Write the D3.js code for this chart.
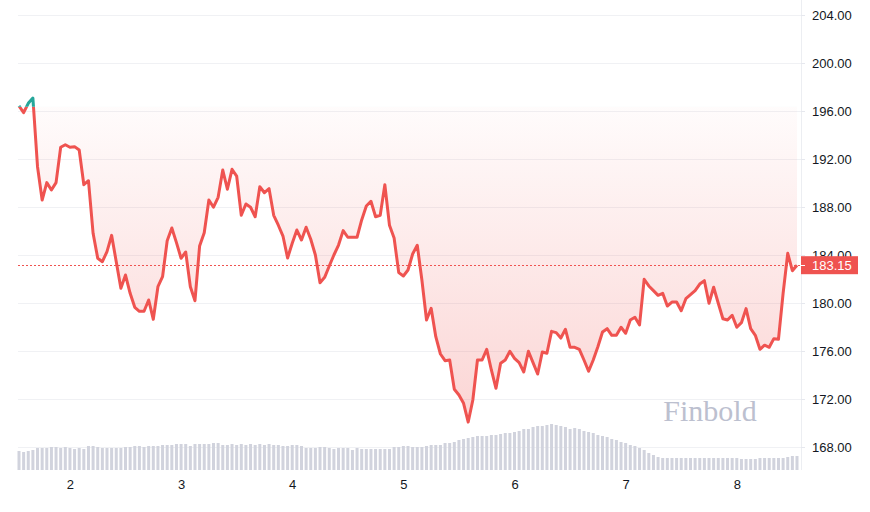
<!DOCTYPE html>
<html lang="en">
<head>
<meta charset="utf-8">
<script src="https://cdn.jsdelivr.net/npm/d3@7"></script>
<style>
    body { margin: 0; background: #fff; }
    .axis-label { font-family: "Liberation Sans", Arial, sans-serif; font-size: 13px; fill: #131722; }
    .watermark { font-family: "Liberation Serif", "Times New Roman", serif; font-size: 30px; fill: #bcc0cf; }
</style>
</head>
<body>
<div id="chart"></div>
<script>
    // hourly closes, day 1 13:00 -> day 8 13:00
    const startTime = Date.UTC(2024, 0, 1, 13);
    const stepMs = 3600 * 1000;

    const prices = [
        196.42, 195.86, 196.64, 197.08, 191.36, 188.58, 190.03, 189.42, 190.03, 192.98,
        193.19, 192.98, 193.03, 192.75, 189.86, 190.19, 185.81, 183.73, 183.44, 184.28,
        185.64, 183.44, 181.23, 182.33, 180.81, 179.64, 179.31, 179.31, 180.25, 178.64,
        181.36, 182.19, 185.19, 186.25, 185.03, 183.73, 184.25, 181.36, 180.19, 184.75,
        185.86, 188.58, 187.98, 188.81, 191.08, 189.48, 191.14, 190.58, 187.31, 188.25,
        187.98, 187.19, 189.69, 189.19, 189.53, 187.31, 186.48, 185.58, 183.75, 184.98,
        186.08, 185.25, 186.31, 185.31, 184.00, 181.69, 182.14, 183.08, 184.00, 184.83,
        186.03, 185.48, 185.48, 185.48, 186.92, 188.08, 188.48, 187.19, 187.31, 189.86,
        186.48, 185.42, 182.53, 182.25, 182.75, 184.08, 184.81, 181.92, 178.58, 179.56,
        177.19, 175.75, 175.19, 175.25, 172.81, 172.33, 171.64, 170.08, 171.92, 175.25,
        175.25, 176.14, 174.42, 172.89, 174.98, 175.25, 175.98, 175.39, 175.03, 174.25,
        175.98, 175.03, 174.08, 175.92, 175.81, 177.64, 177.53, 177.08, 177.81, 176.31,
        176.31, 176.14, 175.25, 174.31, 175.25, 176.36, 177.58, 177.86, 177.31, 177.31,
        177.98, 177.48, 178.58, 178.81, 178.17, 181.98, 181.42, 181.03, 180.64, 180.81,
        179.75, 180.08, 180.08, 179.36, 180.36, 180.69, 181.03, 181.58, 181.86, 179.98,
        181.31, 179.98, 178.69, 178.58, 178.98, 177.98, 178.36, 179.53, 177.86, 177.31,
        176.14, 176.48, 176.31, 177.03, 176.98, 180.81, 184.14, 182.69, 183.15
    ];

    const volumes = [
        19, 18, 19, 20, 22, 22, 22, 23, 23, 22,
        23, 22, 21, 22, 21, 24, 24, 23, 22, 22,
        22, 22, 22, 23, 23, 24, 24, 23, 24, 24,
        24, 25, 25, 25, 26, 26, 26, 24, 26, 26,
        26, 26, 27, 27, 25, 25, 26, 25, 26, 25,
        26, 25, 26, 25, 26, 25, 25, 24, 24, 25,
        25, 24, 22, 22, 22, 23, 23, 22, 21, 22,
        22, 22, 20, 22, 21, 21, 21, 21, 21, 21,
        21, 23, 23, 24, 24, 23, 23, 23, 24, 25,
        25, 25, 27, 27, 28, 30, 31, 32, 33, 34,
        34, 34, 35, 35, 36, 37, 37, 38, 39, 41,
        41, 43, 44, 44, 45, 46, 45, 44, 43, 41,
        42, 41, 39, 38, 37, 35, 34, 33, 31, 30,
        28, 27, 25, 24, 22, 20, 17, 15, 13, 12,
        12, 12, 12, 12, 12, 12, 12, 12, 12, 12,
        12, 12, 12, 12, 12, 12, 11, 11, 11, 11,
        12, 12, 12, 12, 12, 12, 13, 14, 14
    ];

    const priceTicks = [168, 172, 176, 180, 184, 188, 192, 196, 200, 204];
    const dayTicks = [2, 3, 4, 5, 6, 7, 8];
    const baseValue = 196.35;
    const lastPrice = 183.15;
    const watermarkText = "Finbold";

    const width = 870, height = 512;
    const paneLeft = 18, paneRight = 801, paneBottom = 470;

    const data = prices.map((p, i) => ({ t: new Date(startTime + i * stepMs), p: p, v: volumes[i] }));

    const svg = d3.select("#chart")
        .append("svg")
        .attr("width", width)
        .attr("height", height);

    const x = d3.scaleUtc()
        .domain([data[0].t, data[data.length - 1].t])
        .range([19, 797]);

    const y = d3.scaleLinear()
        .domain([168, 204])
        .range([447, 15]);

    const vy = d3.scaleLinear()
        .domain([0, 50])
        .range([paneBottom, 420]);

    // gradients
    const defs = svg.append("defs");
    const redGrad = defs.append("linearGradient")
        .attr("id", "redFill")
        .attr("gradientUnits", "userSpaceOnUse")
        .attr("x1", 0).attr("x2", 0)
        .attr("y1", y(baseValue)).attr("y2", paneBottom);
    redGrad.append("stop").attr("offset", 0).attr("stop-color", "rgba(239,83,80,0.02)");
    redGrad.append("stop").attr("offset", 1).attr("stop-color", "rgba(239,83,80,0.28)");

    const greenGrad = defs.append("linearGradient")
        .attr("id", "greenFill")
        .attr("gradientUnits", "userSpaceOnUse")
        .attr("x1", 0).attr("x2", 0)
        .attr("y1", 0).attr("y2", y(baseValue));
    greenGrad.append("stop").attr("offset", 0).attr("stop-color", "rgba(38,166,154,0.28)");
    greenGrad.append("stop").attr("offset", 1).attr("stop-color", "rgba(38,166,154,0.05)");

    defs.append("clipPath").attr("id", "below")
        .append("rect")
        .attr("x", 0).attr("y", y(baseValue))
        .attr("width", paneRight).attr("height", paneBottom - y(baseValue));
    defs.append("clipPath").attr("id", "above")
        .append("rect")
        .attr("x", 0).attr("y", 0)
        .attr("width", paneRight).attr("height", y(baseValue));

    // horizontal grid
    svg.append("g")
        .selectAll("line")
        .data(priceTicks)
        .join("line")
        .attr("x1", paneLeft)
        .attr("x2", paneRight)
        .attr("y1", d => Math.round(y(d)) + 0.5)
        .attr("y2", d => Math.round(y(d)) + 0.5)
        .attr("stroke", "#f0f1f4")
        .attr("stroke-width", 1);

    // volume bars
    svg.append("g")
        .selectAll("rect")
        .data(data)
        .join("rect")
        .attr("x", d => x(d.t) - 1.5)
        .attr("y", d => vy(d.v))
        .attr("width", 3)
        .attr("height", d => paneBottom - vy(d.v))
        .attr("fill", "#d1d3dd");

    // watermark
    svg.append("text")
        .attr("class", "watermark")
        .attr("x", 710)
        .attr("y", 421)
        .attr("text-anchor", "middle")
        .text(watermarkText);

    // baseline area fill
    const area = d3.area()
        .x(d => x(d.t))
        .y0(y(baseValue))
        .y1(d => y(d.p));

    svg.append("path")
        .datum(data)
        .attr("d", area)
        .attr("fill", "url(#redFill)")
        .attr("clip-path", "url(#below)");

    svg.append("path")
        .datum(data)
        .attr("d", area)
        .attr("fill", "url(#greenFill)")
        .attr("clip-path", "url(#above)");

    // last price dotted line
    svg.append("line")
        .attr("x1", paneLeft)
        .attr("x2", paneRight)
        .attr("y1", Math.round(y(lastPrice)) + 0.5)
        .attr("y2", Math.round(y(lastPrice)) + 0.5)
        .attr("stroke", "#ef5350")
        .attr("stroke-width", 1)
        .attr("stroke-dasharray", "2,2");

    // price line, red below the base value, teal above
    const line = d3.line()
        .x(d => x(d.t))
        .y(d => y(d.p));

    svg.append("path")
        .datum(data)
        .attr("d", line)
        .attr("fill", "none")
        .attr("stroke", "#ef5350")
        .attr("stroke-width", 3)
        .attr("stroke-linejoin", "round")
        .attr("clip-path", "url(#below)");

    svg.append("path")
        .datum(data)
        .attr("d", line)
        .attr("fill", "none")
        .attr("stroke", "#26a69a")
        .attr("stroke-width", 3)
        .attr("stroke-linejoin", "round")
        .attr("clip-path", "url(#above)");

    // right price scale
    svg.append("line")
        .attr("x1", paneRight + 0.5)
        .attr("x2", paneRight + 0.5)
        .attr("y1", 0)
        .attr("y2", paneBottom)
        .attr("stroke", "#eceef2");

    const yAxis = svg.append("g")
        .attr("transform", `translate(${paneRight},0)`)
        .call(d3.axisRight(y).tickValues(priceTicks).tickFormat(d3.format(".2f")).tickSize(4).tickPadding(7));
    yAxis.select(".domain").remove();
    yAxis.selectAll(".tick line").attr("stroke", "#e6e8ee");
    yAxis.selectAll(".tick text")
        .attr("class", "axis-label")
        .attr("fill", null)
        .attr("font-size", null)
        .attr("font-family", null);
    yAxis.attr("font-size", null).attr("font-family", null);

    // last price label
    const ly = y(lastPrice);
    svg.append("rect")
        .attr("x", paneRight)
        .attr("y", ly - 9)
        .attr("width", 57)
        .attr("height", 18)
        .attr("fill", "#ef5350");
    svg.append("line")
        .attr("x1", paneRight)
        .attr("x2", paneRight + 4)
        .attr("y1", Math.round(ly) + 0.5)
        .attr("y2", Math.round(ly) + 0.5)
        .attr("stroke", "#fff");
    svg.append("text")
        .attr("class", "axis-label")
        .attr("x", 812)
        .attr("y", ly)
        .attr("dy", "0.35em")
        .style("fill", "#fff")
        .text(lastPrice.toFixed(2));

    // time scale
    const xAxis = svg.append("g")
        .attr("transform", `translate(0,${paneBottom})`)
        .call(d3.axisBottom(x)
            .tickValues(dayTicks.map(d => new Date(Date.UTC(2024, 0, d))))
            .tickFormat(d3.utcFormat("%-d"))
            .tickSize(0)
            .tickPadding(10));
    xAxis.select(".domain").remove();
    xAxis.selectAll(".tick text")
        .attr("class", "axis-label")
        .attr("fill", null);
    xAxis.attr("font-size", null).attr("font-family", null);
</script>
</body>
</html>
